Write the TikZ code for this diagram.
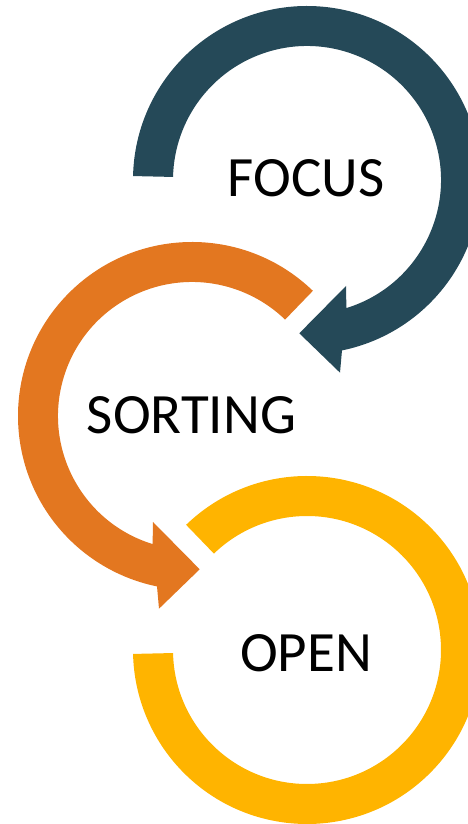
\documentclass[tikz,border=0pt]{standalone}
\usepackage{fontspec}
\setmainfont{Carlito}
\definecolor{cteal}{RGB}{37,73,88}
\definecolor{corange}{RGB}{227,119,32}
\definecolor{cyellow}{RGB}{255,180,0}
\begin{document}
\begin{tikzpicture}[x=1pt,y=1pt,
  lbl/.style={font=\fontsize{57}{60}\selectfont, anchor=base, inner sep=0pt, text=black}]
\useasboundingbox (0,0) rectangle (468,824);
\clip (0,0) rectangle (468,824);
% top arrow (FOCUS)
\fill[cteal, shift={(307,644)}] (178.7:174pt) arc[start angle=178.7, end angle=-78.4, radius=174pt]
  -- (33,-192.7) -- (-7.7,-153.3) -- (39,-106) -- (-72.9:134pt)
  arc[start angle=-72.9, end angle=178.7, radius=134pt] -- cycle;
% middle arrow (SORTING)
\fill[corange, shift={(192,408)}] (46:174pt) arc[start angle=46, end angle=258.4, radius=174pt]
  -- (-33,-192.7) -- (7.7,-153.3) -- (-39,-106) -- (252.9:134pt)
  arc[start angle=252.9, end angle=46, radius=134pt] -- cycle;
% bottom ring (OPEN)
\fill[cyellow, shift={(307,174)}] (134:174pt) arc[start angle=134, end angle=-178.7, radius=174pt]
  -- (-178.7:134pt) arc[start angle=-178.7, end angle=134, radius=134pt] -- cycle;
\node[lbl] (focus) at (306,627) {FOCUS};
\node[lbl] (sorting) at (191.5,390.5) {SORTING};
\node[lbl] (open) at (306,152.5) {OPEN};
\end{tikzpicture}
\end{document}
